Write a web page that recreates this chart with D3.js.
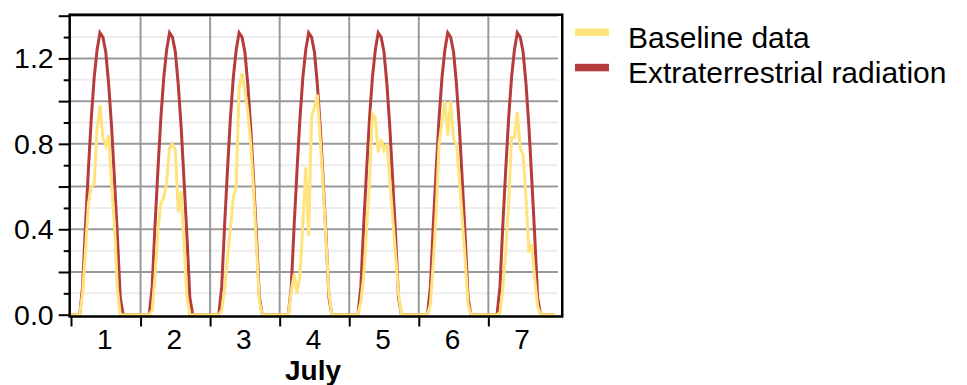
<!DOCTYPE html>
<html>
<head>
<meta charset="utf-8">
<script src="https://cdn.jsdelivr.net/npm/d3@7"></script>
<style>
  html, body { margin: 0; padding: 0; background: #fff; }
  svg text { font-family: "Liberation Sans", Arial, sans-serif; fill: #000; }
</style>
</head>
<body>
<script>
// Hourly values, July 1 - 7 (168 hours), one line per day
const baseline = [
  0, 0, 0, 0, 0.10, 0.30, 0.52, 0.60, 0.61, 0.87, 0.98, 0.83, 0.79, 0.84, 0.62, 0.42, 0.12, 0, 0, 0, 0, 0, 0, 0,
  0, 0, 0, 0, 0.02, 0.18, 0.40, 0.52, 0.55, 0.62, 0.78, 0.80, 0.77, 0.48, 0.58, 0.33, 0.08, 0, 0, 0, 0, 0, 0, 0,
  0, 0, 0, 0, 0.02, 0.12, 0.27, 0.40, 0.55, 0.60, 1.06, 1.13, 1.05, 0.95, 0.80, 0.58, 0.32, 0.06, 0, 0, 0, 0, 0, 0,
  0, 0, 0, 0, 0.11, 0.19, 0.10, 0.18, 0.42, 0.69, 0.37, 0.93, 0.97, 1.03, 0.82, 0.60, 0.35, 0.10, 0, 0, 0, 0, 0, 0,
  0, 0, 0, 0, 0.06, 0.18, 0.40, 0.62, 0.94, 0.92, 0.76, 0.82, 0.77, 0.80, 0.63, 0.45, 0.28, 0.10, 0, 0, 0, 0, 0, 0,
  0, 0, 0, 0, 0.05, 0.24, 0.48, 0.80, 0.90, 1.00, 0.84, 1.00, 0.82, 0.80, 0.64, 0.45, 0.26, 0.05, 0, 0, 0, 0, 0, 0,
  0, 0, 0, 0, 0.01, 0.12, 0.30, 0.52, 0.83, 0.83, 0.95, 0.78, 0.75, 0.55, 0.29, 0.33, 0.17, 0.04, 0, 0, 0, 0, 0, 0
];

const extraterrestrial = [
  0, 0, 0, 0, 0.13, 0.42, 0.68, 0.92, 1.11, 1.24, 1.32, 1.30, 1.23, 1.08, 0.88, 0.63, 0.37, 0.08, 0, 0, 0, 0, 0, 0,
  0, 0, 0, 0, 0.13, 0.42, 0.68, 0.92, 1.11, 1.24, 1.32, 1.30, 1.23, 1.08, 0.88, 0.63, 0.37, 0.08, 0, 0, 0, 0, 0, 0,
  0, 0, 0, 0, 0.13, 0.42, 0.68, 0.92, 1.11, 1.24, 1.32, 1.30, 1.23, 1.08, 0.88, 0.63, 0.37, 0.08, 0, 0, 0, 0, 0, 0,
  0, 0, 0, 0, 0.13, 0.42, 0.68, 0.92, 1.11, 1.24, 1.32, 1.30, 1.23, 1.08, 0.88, 0.63, 0.37, 0.08, 0, 0, 0, 0, 0, 0,
  0, 0, 0, 0, 0.13, 0.42, 0.68, 0.92, 1.11, 1.24, 1.32, 1.30, 1.23, 1.08, 0.88, 0.63, 0.37, 0.08, 0, 0, 0, 0, 0, 0,
  0, 0, 0, 0, 0.13, 0.42, 0.68, 0.92, 1.11, 1.24, 1.32, 1.30, 1.23, 1.08, 0.88, 0.63, 0.37, 0.08, 0, 0, 0, 0, 0, 0,
  0, 0, 0, 0, 0.13, 0.42, 0.68, 0.92, 1.11, 1.24, 1.32, 1.30, 1.23, 1.08, 0.88, 0.63, 0.37, 0.08, 0, 0, 0, 0, 0, 0
];

const dayLabels = ['1', '2', '3', '4', '5', '6', '7'];
const yMajorTicks = [0, 0.2, 0.4, 0.6, 0.8, 1.0, 1.2, 1.4];
const yMinorTicks = [0.1, 0.3, 0.5, 0.7, 0.9, 1.1, 1.3];
const yLabelTicks = [0, 0.4, 0.8, 1.2];
const seriesNames = ['Baseline data', 'Extraterrestrial radiation'];
const seriesColors = ['#FFE37C', '#B53B3C'];

const width = 967;
const height = 385;
const hoursPerDay = 24;

const svg = d3.select('body').append('svg')
    .attr('width', width)
    .attr('height', height);

// Scales: x in hours from July 1 00:00
const x = d3.scaleLinear().domain([0, 168]).range([71, 557.9]);
const y = d3.scaleLinear().domain([0, 1.4]).range([314.7, 15.7]);

const dayStarts = d3.range(0, 168, hoursPerDay);

// Grid: light minor lines, then dark major lines
const grid = svg.append('g');
grid.selectAll('line.minor')
    .data(yMinorTicks)
    .enter().append('line')
    .attr('x1', x(0)).attr('x2', x(168))
    .attr('y1', d => y(d)).attr('y2', d => y(d))
    .attr('stroke', '#ececec')
    .attr('stroke-width', 2);

grid.selectAll('line.major')
    .data(yMajorTicks.filter(d => d > 0))
    .enter().append('line')
    .attr('x1', x(0)).attr('x2', x(168))
    .attr('y1', d => y(d)).attr('y2', d => y(d))
    .attr('stroke', '#999')
    .attr('stroke-width', 2);

grid.selectAll('line.vert')
    .data(dayStarts.filter(d => d > 0))
    .enter().append('line')
    .attr('x1', d => x(d)).attr('x2', d => x(d))
    .attr('y1', y(0)).attr('y2', y(1.4))
    .attr('stroke', '#999')
    .attr('stroke-width', 2);

// Lines (red first so yellow sits on top)
const line = d3.line()
    .x((d, i) => x(i))
    .y(d => y(d));

svg.append('path')
    .datum(extraterrestrial)
    .attr('d', line)
    .attr('fill', 'none')
    .attr('stroke', seriesColors[1])
    .attr('stroke-width', 3);

svg.append('path')
    .datum(baseline)
    .attr('d', line)
    .attr('fill', 'none')
    .attr('stroke', seriesColors[0])
    .attr('stroke-width', 3);

// Frame around plot
const frameLeft = x(-0.45), frameRight = x(169.5);
const frameTop = y(1.4) - 1, frameBottom = y(0) + 1.8;
svg.append('rect')
    .attr('x', frameLeft).attr('y', frameTop)
    .attr('width', frameRight - frameLeft)
    .attr('height', frameBottom - frameTop)
    .attr('fill', 'none')
    .attr('stroke', '#000')
    .attr('stroke-width', 2.5);

// Y axis: major and minor ticks
const yAxis = svg.append('g')
    .attr('transform', `translate(${frameLeft},0)`)
    .call(d3.axisLeft(y)
        .tickValues(yMajorTicks)
        .tickSize(11)
        .tickFormat(d => yLabelTicks.some(v => Math.abs(v - d) < 1e-6) ? d3.format('.1f')(d) : ''));
yAxis.select('.domain').remove();
yAxis.selectAll('.tick line').attr('stroke', '#000').attr('stroke-width', 2);
yAxis.selectAll('.tick text')
    .attr('x', -16)
    .attr('dy', '0.33em')
    .style('font-size', '28.5px');

const yMinor = svg.append('g')
    .attr('transform', `translate(${frameLeft},0)`)
    .call(d3.axisLeft(y).tickValues(yMinorTicks).tickSize(6).tickFormat(''));
yMinor.select('.domain').remove();
yMinor.selectAll('.tick line').attr('stroke', '#000').attr('stroke-width', 2);

// X axis: ticks at day boundaries, labels at mid-day
const xAxis = svg.append('g')
    .attr('transform', `translate(0,${frameBottom})`)
    .call(d3.axisBottom(x).tickValues(dayStarts).tickSize(10).tickFormat(''));
xAxis.select('.domain').remove();
xAxis.selectAll('.tick line').attr('stroke', '#000').attr('stroke-width', 2);

svg.selectAll('text.day')
    .data(dayLabels)
    .enter().append('text')
    .attr('class', 'day')
    .attr('x', (d, i) => x(i * hoursPerDay + 12) - 1)
    .attr('y', 349)
    .attr('text-anchor', 'middle')
    .style('font-size', '28px')
    .text(d => d);

svg.append('text')
    .attr('x', (frameLeft + frameRight) / 2 - 3)
    .attr('y', 380)
    .attr('text-anchor', 'middle')
    .style('font-size', '28px')
    .style('font-weight', 'bold')
    .text('July');

// Legend
const legend = svg.append('g').attr('transform', 'translate(575,0)');
legend.selectAll('rect')
    .data(seriesNames)
    .enter().append('rect')
    .attr('x', 0)
    .attr('y', (d, i) => 28.5 + i * 35.3)
    .attr('width', 34)
    .attr('height', 7.5)
    .attr('fill', (d, i) => seriesColors[i]);

legend.selectAll('text')
    .data(seriesNames)
    .enter().append('text')
    .attr('x', 53)
    .attr('y', (d, i) => 48.3 + i * 35)
    .style('font-size', '30px')
    .text(d => d);
</script>
</body>
</html>
